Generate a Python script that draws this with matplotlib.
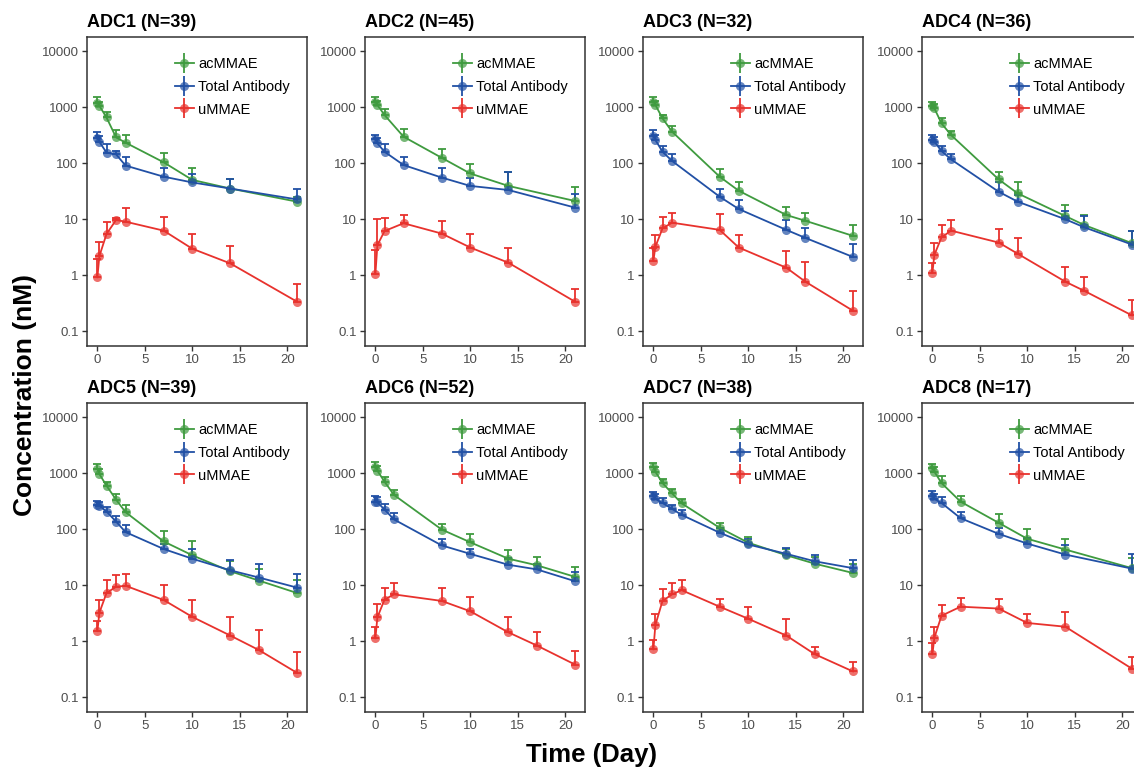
import matplotlib.pyplot as plt
from matplotlib.lines import Line2D
from matplotlib.colors import to_rgba
import numpy as np

plt.rcParams['font.family'] = ['Liberation Sans', 'DejaVu Sans']

# Sampling days per study
t_a = [0.042, 0.25, 1, 2, 3, 7, 10, 14, 21]
t_b = [0.042, 0.25, 1, 3, 7, 10, 14, 21]
t_c = [0.042, 0.25, 1, 2, 7, 9, 14, 16, 21]
t_d = [0.042, 0.25, 1, 2, 3, 7, 10, 14, 17, 21]
t_e = [0.042, 0.25, 1, 2, 7, 10, 14, 17, 21]

titles = ['ADC1 (N=39)', 'ADC2 (N=45)', 'ADC3 (N=32)', 'ADC4 (N=36)',
          'ADC5 (N=39)', 'ADC6 (N=52)', 'ADC7 (N=38)', 'ADC8 (N=17)']

# mean concentrations (nM) and mean + SD (top of error bar)
adc1_ac = [1200, 1050, 650, 287, 231, 103, 50, 35, 20.4]
adc1_ac_hi = [1530, 1250, 815, 388, 316, 149, 80, 52, 25]
adc1_tab = [276, 240, 153, 143, 90, 57, 45, 35, 22.4]
adc1_tab_hi = [363, 300, 218, 165, 126, 80, 64, 52, 35]
adc1_u = [0.91, 2.18, 5.4, 9.6, 8.96, 6.2, 2.95, 1.61, 0.334]
adc1_u_hi = [1.9, 3.94, 9.0, 10.5, 15.5, 11, 5.3, 3.3, 0.69]

adc2_ac = [1250, 1087, 720, 295, 124, 65, 39, 21]
adc2_ac_hi = [1500, 1300, 908, 399, 175, 96, 70, 37]
adc2_tab = [265, 224, 159, 92, 55, 39, 33, 16]
adc2_tab_hi = [316, 280, 218, 130, 80, 55, 70, 28]
adc2_u = [1.04, 3.4, 6.1, 8.4, 5.5, 3.1, 1.66, 0.334]
adc2_u_hi = [2.8, 10, 10.3, 11.8, 9.2, 5.5, 3.1, 0.57]

adc3_ac = [1250, 1090, 628, 363, 57, 32, 11.8, 9.3, 5.0]
adc3_ac_hi = [1530, 1300, 720, 458, 77, 45, 16.6, 12.6, 7.8]
adc3_tab = [303, 258, 159, 109, 25, 15.1, 6.4, 4.6, 2.1]
adc3_tab_hi = [388, 320, 201, 145, 34, 21.8, 9.6, 6.8, 3.6]
adc3_u = [1.8, 3.2, 6.8, 8.6, 6.4, 3.1, 1.35, 0.76, 0.23]
adc3_u_hi = [3.0, 5.2, 10.7, 12.6, 12.1, 5.2, 2.7, 1.73, 0.52]

adc4_ac = [1040, 946, 510, 316, 51, 28.7, 11.3, 7.8, 3.7]
adc4_ac_hi = [1245, 1150, 628, 372, 70, 45, 17.8, 11.8, 6.0]
adc4_tab = [258, 240, 164, 116, 30.7, 20.4, 9.9, 7.1, 3.5]
adc4_tab_hi = [316, 290, 201, 143, 45, 27, 14, 11.3, 6.1]
adc4_u = [1.1, 2.3, 4.7, 6.2, 3.8, 2.4, 0.76, 0.52, 0.19]
adc4_u_hi = [1.64, 3.7, 7.8, 9.6, 6.5, 4.5, 1.41, 0.93, 0.36]

adc5_ac = [1175, 957, 594, 335, 200, 60, 34, 17.6, 12, 7.2]
adc5_ac_hi = [1442, 1200, 681, 423, 269, 94, 60, 27, 19.6, 12.2]
adc5_tab = [269, 262, 205, 136, 88, 44, 29.5, 18.3, 13.6, 9.0]
adc5_tab_hi = [321, 310, 245, 174, 119, 54, 44, 27.6, 24, 16]
adc5_u = [1.5, 3.2, 7.2, 9.3, 9.7, 5.4, 2.7, 1.25, 0.69, 0.27]
adc5_u_hi = [2.3, 5.4, 12.2, 14.9, 16, 9.9, 5.4, 2.7, 1.6, 0.63]

adc6_ac = [1260, 1100, 700, 405, 98, 58, 29.5, 22.5, 14]
adc6_ac_hi = [1543, 1350, 835, 505, 124, 82, 41.5, 31.6, 21]
adc6_tab = [308, 300, 223, 148, 51, 36, 23, 19, 11.7]
adc6_tab_hi = [394, 370, 281, 191, 67, 44, 30, 24, 17]
adc6_u = [1.12, 2.64, 5.5, 6.8, 5.2, 3.4, 1.43, 0.83, 0.38]
adc6_u_hi = [1.8, 4.6, 8.7, 11, 8.7, 6.1, 2.7, 1.43, 0.65]

adc7_ac = [1260, 1055, 662, 434, 288, 105, 57, 34, 24, 16.4]
adc7_ac_hi = [1500, 1300, 780, 518, 344, 129, 72, 44, 31.6, 24]
adc7_tab = [384, 344, 292, 229, 179, 86, 53, 36, 26.5, 20]
adc7_tab_hi = [464, 420, 353, 269, 219, 105, 67, 46, 35, 28]
adc7_u = [0.71, 1.93, 5.2, 6.8, 8.1, 4.1, 2.5, 1.25, 0.58, 0.286]
adc7_u_hi = [1.04, 3.1, 8.4, 11, 12.2, 5.7, 4.1, 2.5, 0.79, 0.43]

adc8_ac = [1208, 1055, 662, 308, 129, 67, 43, 20]
adc8_ac_hi = [1442, 1300, 871, 394, 186, 101, 67, 30]
adc8_tab = [384, 344, 292, 156, 82, 55, 35, 19.6]
adc8_tab_hi = [484, 430, 368, 205, 104, 70, 51, 36]
adc8_u = [0.58, 1.15, 2.83, 4.1, 3.8, 2.1, 1.8, 0.32]
adc8_u_hi = [0.91, 1.8, 4.4, 5.9, 5.7, 3.1, 3.3, 0.51]

panels = [
    (t_a, adc1_ac, adc1_ac_hi, adc1_tab, adc1_tab_hi, adc1_u, adc1_u_hi),
    (t_b, adc2_ac, adc2_ac_hi, adc2_tab, adc2_tab_hi, adc2_u, adc2_u_hi),
    (t_c, adc3_ac, adc3_ac_hi, adc3_tab, adc3_tab_hi, adc3_u, adc3_u_hi),
    (t_c, adc4_ac, adc4_ac_hi, adc4_tab, adc4_tab_hi, adc4_u, adc4_u_hi),
    (t_d, adc5_ac, adc5_ac_hi, adc5_tab, adc5_tab_hi, adc5_u, adc5_u_hi),
    (t_e, adc6_ac, adc6_ac_hi, adc6_tab, adc6_tab_hi, adc6_u, adc6_u_hi),
    (t_d, adc7_ac, adc7_ac_hi, adc7_tab, adc7_tab_hi, adc7_u, adc7_u_hi),
    (t_b, adc8_ac, adc8_ac_hi, adc8_tab, adc8_tab_hi, adc8_u, adc8_u_hi),
]

series_names = ['acMMAE', 'Total Antibody', 'uMMAE']
series_colors = ['#3f9b3f', '#2150a5', '#e8322d']

W, H = 1134, 768
fig = plt.figure(figsize=(W / 100, H / 100), dpi=100)

lefts = [87, 365, 643, 922]
tops = [37, 403]
aw, ah = 220, 309

for i, (t, ac, ac_hi, tab, tab_hi, u, u_hi) in enumerate(panels):
    r, c = divmod(i, 4)
    ax = fig.add_axes([lefts[c] / W, 1 - (tops[r] + ah) / H, aw / W, ah / H])
    t = np.array(t)
    for mean, hi, color in zip([ac, tab, u], [ac_hi, tab_hi, u_hi], series_colors):
        mean = np.array(mean, dtype=float)
        hi = np.array(hi, dtype=float)
        ax.errorbar(t, mean, yerr=[np.zeros_like(mean), hi - mean],
                    color=color, lw=1.3, elinewidth=1.3, capsize=2.6, capthick=1.3,
                    marker='o', ms=6.5, mfc=to_rgba(color, 0.7), mec='none', zorder=2)

    ax.set_yscale('log')
    ax.set_ylim(0.054, 17800)
    ax.set_xlim(-1.05, 22.05)
    ax.set_yticks([0.1, 1, 10, 100, 1000, 10000])
    ax.set_yticklabels(['0.1', '1', '10', '100', '1000', '10000'])
    ax.yaxis.set_minor_locator(plt.NullLocator())
    ax.set_xticks([0, 5, 10, 15, 20])
    ax.tick_params(direction='out', length=3.5, width=1.0, color='#333333',
                   labelcolor='#4d4d4d', labelsize=9.5, pad=2.5)
    for sp in ax.spines.values():
        sp.set_color('#333333')
        sp.set_linewidth(1.1)
    ax.set_title(titles[i], loc='left', fontsize=13, fontweight='bold', pad=7)

    handles = [(Line2D([0], [0], color=col, lw=1.3, marker='o', ms=6.5,
                       mfc=to_rgba(col, 0.7), mec='none'),
                Line2D([0], [0], color=col, marker='|', ms=14, mew=1.3, ls='none'))
               for col in series_colors]
    ax.legend(handles, series_names, loc='upper left', bbox_to_anchor=(0.40, 0.935),
              frameon=False, fontsize=10.5, handlelength=1.3, handletextpad=0.3,
              labelspacing=0.6, borderpad=0, borderaxespad=0)

fig.text(0.022, 0.486, 'Concentration (nM)', rotation=90, ha='center', va='center',
         fontsize=19, fontweight='bold')
fig.text(0.522, 0.008, 'Time (Day)', ha='center', va='baseline',
         fontsize=18.5, fontweight='bold')

fig.savefig('out.png', dpi=100)
